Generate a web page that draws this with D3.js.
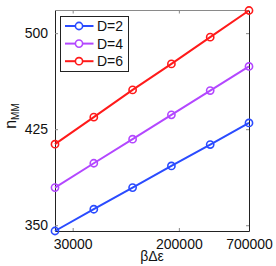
<!DOCTYPE html>
<html lang="en">
<head>
    <meta charset="UTF-8">
    <title>n_MM vs beta delta epsilon</title>
    <script src="https://d3js.org/d3.v7.min.js"></script>
    <style>
        body { margin: 0; background: #fff; }
        text { font-family: "Liberation Sans", Arial, sans-serif; }
    </style>
</head>
<body>
    <div id="chart"></div>
    <script>
        var width = 276,
            height = 266;

        // data
        const xValues = [21875, 43750, 87500, 175000, 350000, 700000];
        const seriesNames = ["D=2", "D=4", "D=6"];
        const d2 = [345.5, 362.5, 379.4, 396.3, 413.0, 429.9];
        const d4 = [379.4, 398.4, 417.2, 436.2, 455.2, 474.0];
        const d6 = [413.3, 434.4, 455.7, 476.0, 496.9, 517.7];
        const colors = ["#2a4bff", "#b347ff", "#ff1a1a"];
        const xTicks = [30000, 200000, 700000];
        const yTicks = [350, 425, 500];

        const series = [d2, d4, d6].map((vals, i) => ({
            name: seriesNames[i],
            color: colors[i],
            points: vals.map((v, j) => ({ x: xValues[j], y: v }))
        }));

        const margin = { left: 55, right: 27, top: 10.5, bottom: 35 };
        const innerW = width - margin.left - margin.right,
              innerH = height - margin.top - margin.bottom;

        const x = d3.scaleLog()
            .domain([xValues[0], xValues[xValues.length - 1]])
            .range([0, innerW]);
        const y = d3.scaleLinear()
            .domain([d3.min(d2), d3.max(d6)])
            .range([innerH, 0]);

        const svg = d3.select("#chart").append("svg")
            .attr("width", width)
            .attr("height", height);

        const g = svg.append("g")
            .attr("transform", `translate(${margin.left},${margin.top})`);

        // box
        g.append("line").attr("x1", 0).attr("x2", innerW).attr("y1", 0).attr("y2", 0)
            .attr("stroke", "#8a8a8a").attr("stroke-width", 1);

        // axes, ticks pointing inward
        const xAxis = d3.axisBottom(x).tickValues(xTicks).tickFormat(d3.format("d"))
            .tickSizeInner(-3).tickSizeOuter(0).tickPadding(8);
        const yAxis = d3.axisLeft(y).tickValues(yTicks).tickFormat(d3.format("d"))
            .tickSizeInner(-3).tickSizeOuter(0).tickPadding(7);

        const gx = g.append("g").attr("transform", `translate(0,${innerH})`).call(xAxis);
        const gy = g.append("g").call(yAxis);
        [gx, gy].forEach(a => {
            a.select(".domain").attr("stroke", "#222").attr("stroke-width", 1);
            a.selectAll(".tick line").attr("stroke", "#888");
            a.selectAll(".tick text").attr("font-size", 14).attr("fill", "#111")
                .attr("font-family", "Liberation Sans, Arial, sans-serif");
        });

        // top and right ticks
        g.append("g").call(d3.axisTop(x).tickValues(xTicks).tickFormat("").tickSizeInner(-3).tickSizeOuter(0))
            .call(a => { a.select(".domain").remove(); a.selectAll("line").attr("stroke", "#888"); });
        const gr = g.append("g").attr("transform", `translate(${innerW},0)`)
            .call(d3.axisRight(y).tickValues(yTicks).tickFormat("").tickSizeInner(-3).tickSizeOuter(0));
        gr.select(".domain").attr("stroke", "#222");
        gr.selectAll("line").attr("stroke", "#888");

        const line = d3.line().x(d => x(d.x)).y(d => y(d.y));

        const sg = g.selectAll(".series")
            .data(series)
            .join("g");
        sg.append("path")
            .attr("d", d => line(d.points))
            .attr("fill", "none")
            .attr("stroke", d => d.color)
            .attr("stroke-width", 2);
        sg.selectAll("circle")
            .data(d => d.points.map(p => ({ p, color: d.color })))
            .join("circle")
            .attr("cx", d => x(d.p.x))
            .attr("cy", d => y(d.p.y))
            .attr("r", 3.6)
            .attr("fill", "none")
            .attr("stroke", d => d.color)
            .attr("stroke-width", 1.6);

        // legend
        const lg = svg.append("g").attr("transform", "translate(60.5,16.5)");
        lg.append("rect").attr("width", 68).attr("height", 55)
            .attr("fill", "#fff").attr("stroke", "#222").attr("stroke-width", 1);
        const items = lg.selectAll(".item").data(series).join("g")
            .attr("transform", (d, i) => `translate(0,${9.5 + i * 17.6})`);
        items.append("line").attr("x1", 4.5).attr("x2", 33).attr("y1", 0).attr("y2", 0)
            .attr("stroke", d => d.color).attr("stroke-width", 2);
        items.append("circle").attr("cx", 18.5).attr("cy", 0).attr("r", 3.6)
            .attr("fill", "#fff").attr("stroke", d => d.color).attr("stroke-width", 1.6);
        items.append("text").attr("x", 36.5).attr("y", 5).attr("font-size", 14)
            .attr("fill", "#111").text(d => d.name);

        // axis labels
        svg.append("text")
            .attr("transform", "translate(16,116) rotate(-90)")
            .attr("text-anchor", "middle")
            .attr("font-size", 16)
            .attr("fill", "#111")
            .call(t => {
                t.append("tspan").text("n");
                t.append("tspan").attr("font-size", 10).attr("dy", 3).text("MM");
            });
        svg.append("text")
            .attr("x", margin.left + innerW / 2)
            .attr("y", 261)
            .attr("text-anchor", "middle")
            .attr("font-size", 14)
            .attr("font-family", "DejaVu Serif, serif")
            .attr("fill", "#111")
            .text("βΔε");
    </script>
</body>
</html>
